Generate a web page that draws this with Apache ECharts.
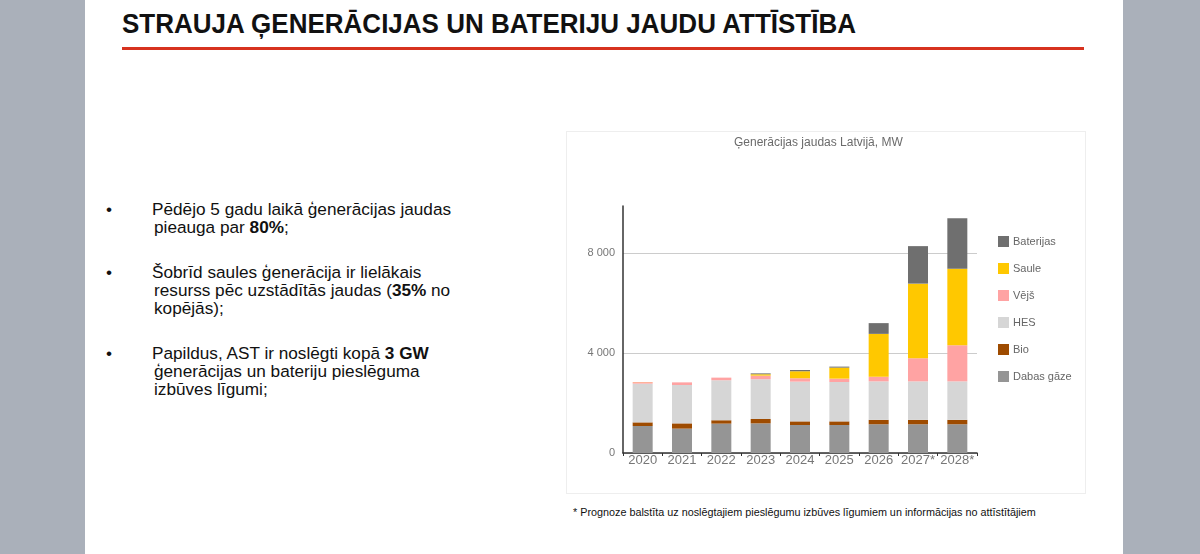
<!DOCTYPE html>
<html>
<head>
<meta charset="utf-8">
<script src="https://cdn.jsdelivr.net/npm/echarts@6/dist/echarts.min.js"></script>
<style>
  html, body { margin: 0; padding: 0; }
  body { width: 1200px; height: 554px; background: #aab0ba; position: relative; overflow: hidden;
         font-family: "Liberation Sans", Arial, sans-serif; }
  .slide { position: absolute; left: 85px; top: 0; width: 1038px; height: 554px; background: #fff; }
  .title { position: absolute; left: 122px; top: 9px; font-size: 27px; font-weight: bold; color: #111;
           white-space: nowrap; transform-origin: 0 0; letter-spacing: 0; }
  .rule { position: absolute; left: 122px; top: 47px; width: 962px; height: 3px; background: #d7321f; }
  .bullets { position: absolute; left: 106px; top: 200px; font-size: 17.2px; line-height: 18px; color: #111; }
  .bullets .item { position: relative; padding-left: 46px; margin-bottom: 27px; }
  .bullets .item::before { content: "•"; position: absolute; left: 0; top: 0; }
  .bullets .item div { white-space: nowrap; }
  .bullets .item div + div { padding-left: 2px; }
  #chartBox { position: absolute; left: 566px; top: 131px; width: 518px; height: 361px; border: 1px solid #eeeeee; }
  #chart { width: 518px; height: 361px; }
  .note { position: absolute; left: 573px; top: 506px; font-size: 10.8px; color: #111; white-space: nowrap; }
</style>
</head>
<body>
<div class="slide"></div>
<div class="title" id="title">STRAUJA ĢENERĀCIJAS UN BATERIJU JAUDU ATTĪSTĪBA</div>
<div class="rule"></div>
<div class="bullets">
  <div class="item"><div>Pēdējo 5 gadu laikā ģenerācijas jaudas</div><div>pieauga par <b>80%</b>;</div></div>
  <div class="item"><div>Šobrīd saules ģenerācija ir lielākais</div><div>resurss pēc uzstādītās jaudas (<b>35%</b> no</div><div>kopējās);</div></div>
  <div class="item"><div>Papildus, AST ir noslēgti kopā <b>3 GW</b></div><div>ģenerācijas un bateriju pieslēguma</div><div>izbūves līgumi;</div></div>
</div>
<div id="chartBox"><div id="chart"></div></div>
<div class="note">* Prognoze balstīta uz noslēgtajiem pieslēgumu izbūves līgumiem un informācijas no attīstītājiem</div>
<script>
  // fit the heading to the slide width
  var t = document.getElementById('title');
  t.style.transform = 'scaleX(' + (734 / t.offsetWidth) + ')';

  var years = ['2020', '2021', '2022', '2023', '2024', '2025', '2026', '2027*', '2028*'];
  var dabasGaze = [1080, 975, 1175, 1185, 1120, 1120, 1150, 1150, 1150];
  var bio = [145, 210, 135, 175, 145, 145, 175, 175, 175];
  var hes = [1550, 1535, 1600, 1590, 1590, 1575, 1540, 1540, 1540];
  var vejs = [60, 105, 105, 145, 135, 135, 185, 925, 1445];
  var saule = [5, 0, 0, 55, 280, 440, 1715, 2985, 3065];
  var baterijas = [0, 0, 0, 35, 50, 40, 430, 1500, 2020];

  var seriesDefs = [
    { name: 'Dabas gāze', data: dabasGaze, color: '#959595' },
    { name: 'Bio', data: bio, color: '#9e4b00' },
    { name: 'HES', data: hes, color: '#d6d6d6' },
    { name: 'Vējš', data: vejs, color: '#ffa3a3' },
    { name: 'Saule', data: saule, color: '#ffc800' },
    { name: 'Baterijas', data: baterijas, color: '#6f6f6f' }
  ];

  var chart = echarts.init(document.getElementById('chart'));
  chart.setOption({
    animation: false,
    textStyle: { fontFamily: 'Liberation Sans, Arial, sans-serif' },
    title: {
      text: 'Ģenerācijas jaudas Latvijā, MW',
      left: 162, top: 0,
      textStyle: { fontSize: 12, fontWeight: 'normal', color: '#6b6b6b' }
    },
    legend: {
      orient: 'vertical',
      left: 426, top: 99,
      itemWidth: 11, itemHeight: 11, itemGap: 16,
      icon: 'rect',
      data: ['Baterijas', 'Saule', 'Vējš', 'HES', 'Bio', 'Dabas gāze'],
      textStyle: { fontSize: 11, color: '#666', padding: [0, 0, 0, -1] }
    },
    grid: { left: 56, right: 108, top: 74, bottom: 40 },
    xAxis: {
      type: 'category',
      data: years,
      axisLine: { lineStyle: { color: '#333', width: 1.5 } },
      axisTick: { show: true, length: 3, lineStyle: { color: '#333' } },
      axisLabel: { fontSize: 13, color: '#777', margin: 1, interval: 0 }
    },
    yAxis: {
      type: 'value',
      min: 0, max: 9880, interval: 4000,
      axisLine: { show: true, lineStyle: { color: '#333', width: 1.5 } },
      axisTick: { show: false },
      axisLabel: {
        fontSize: 11, color: '#777', margin: 8, showMaxLabel: false,
        formatter: function (v) { return String(v).replace(/\B(?=(\d{3})+(?!\d))/g, ' '); }
      },
      splitLine: { lineStyle: { color: ['#cccccc', '#cccccc', '#cccccc', 'rgba(0,0,0,0)'] } }
    },
    series: seriesDefs.map(function (s) {
      return {
        name: s.name, type: 'bar', stack: 'total', data: s.data,
        barWidth: 20, itemStyle: { color: s.color }
      };
    })
  });
</script>
</body>
</html>
